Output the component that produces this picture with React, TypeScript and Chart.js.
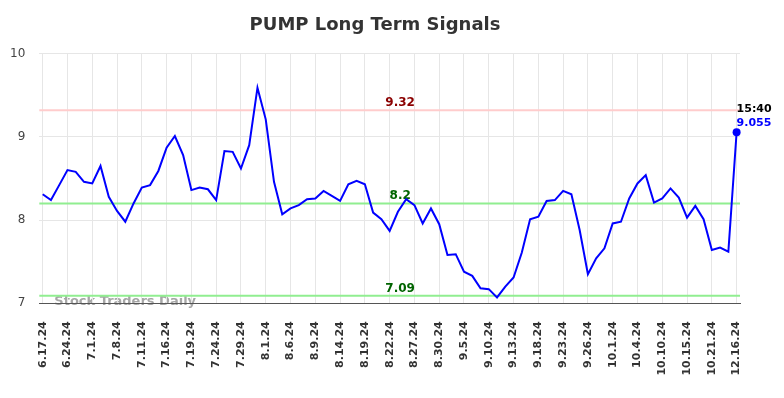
import React, { useEffect, useRef } from "react";
import { Chart, registerables } from "chart.js";

Chart.register(...registerables);

const FONT = '"DejaVu Sans", Verdana, sans-serif';

const titleText = "PUMP Long Term Signals";
const watermark = "Stock Traders Daily";
const lastTime = "15:40";

// one tick label every 3 data points
const TICK_STEP = 3;
const tickLabels = [
  "6.17.24", "6.24.24", "7.1.24", "7.8.24", "7.11.24", "7.16.24", "7.19.24",
  "7.24.24", "7.29.24", "8.1.24", "8.6.24", "8.9.24", "8.14.24", "8.19.24",
  "8.22.24", "8.27.24", "8.30.24", "9.5.24", "9.10.24", "9.13.24", "9.18.24",
  "9.23.24", "9.26.24", "10.1.24", "10.4.24", "10.10.24", "10.15.24",
  "10.21.24", "12.16.24",
];

const values = [
  8.31, 8.24, 8.42, 8.6, 8.58, 8.46, 8.44, 8.65, 8.28, 8.11,
  7.98, 8.2, 8.39, 8.42, 8.59, 8.87, 9.01, 8.78, 8.36, 8.39,
  8.37, 8.24, 8.83, 8.82, 8.62, 8.9, 9.59, 9.21, 8.46, 8.07,
  8.14, 8.18, 8.25, 8.26, 8.35, 8.29, 8.23, 8.43, 8.47, 8.43,
  8.09, 8.01, 7.87, 8.1, 8.25, 8.18, 7.96, 8.14, 7.95, 7.58,
  7.59, 7.38, 7.33, 7.18, 7.17, 7.07, 7.2, 7.31, 7.61, 8.01,
  8.04, 8.23, 8.24, 8.35, 8.31, 7.88, 7.35, 7.54, 7.66, 7.96,
  7.98, 8.26, 8.44, 8.54, 8.21, 8.26, 8.38, 8.27, 8.03, 8.17,
  8.01, 7.64, 7.67, 7.62, 9.055,
];

const signalLevels = [9.32, 8.2, 7.09];
const signalLineColors = ["#ffcccc", "#90ee90", "#90ee90"];
const signalTextColors = ["#8b0000", "#006400", "#006400"];

const yTicks = [7, 8, 9, 10];

const overlayPlugin = {
  id: "overlay",
  beforeDraw(chart: any) {
    const { ctx, chartArea } = chart;
    ctx.save();
    ctx.font = `bold 13px ${FONT}`;
    ctx.fillStyle = "#a6a6a6";
    ctx.textBaseline = "middle";
    ctx.textAlign = "left";
    ctx.fillText(watermark, chartArea.left + 15, chartArea.bottom - 1.5);
    ctx.restore();
  },
  beforeDatasetsDraw(chart: any) {
    const { ctx, chartArea, scales } = chart;
    const y = scales.y;
    ctx.save();
    signalLevels.forEach((lvl, i) => {
      const py = y.getPixelForValue(lvl);
      ctx.strokeStyle = signalLineColors[i];
      ctx.lineWidth = 2;
      ctx.beginPath();
      ctx.moveTo(chartArea.left, py);
      ctx.lineTo(chartArea.right, py);
      ctx.stroke();
      ctx.font = `bold 12px ${FONT}`;
      ctx.fillStyle = signalTextColors[i];
      ctx.textAlign = "center";
      ctx.textBaseline = "alphabetic";
      ctx.fillText(String(lvl), chartArea.left + chartArea.width * 0.515, py - 4);
    });
    ctx.restore();
  },
  afterDatasetsDraw(chart: any) {
    const { ctx } = chart;
    const meta = chart.getDatasetMeta(0);
    const pt = meta.data[meta.data.length - 1];
    if (!pt) return;
    ctx.save();
    ctx.font = `bold 11px ${FONT}`;
    ctx.textAlign = "left";
    ctx.textBaseline = "alphabetic";
    ctx.fillStyle = "#000000";
    ctx.fillText(lastTime, pt.x, pt.y - 20);
    ctx.fillStyle = "#0000ff";
    ctx.fillText(String(values[values.length - 1]), pt.x, pt.y - 6.5);
    ctx.restore();
  },
};

export default function App() {
  const ref = useRef<HTMLCanvasElement>(null);

  useEffect(() => {
    if (!ref.current) return;
    const chart = new Chart(ref.current, {
      type: "line",
      data: {
        datasets: [
          {
            data: values.map((v, i) => ({ x: i, y: v })),
            borderColor: "#0000ff",
            backgroundColor: "#0000ff",
            borderWidth: 2,
            tension: 0,
            pointRadius: (c: any) => (c.dataIndex === values.length - 1 ? 4 : 0),
            pointBackgroundColor: "#0000ff",
            pointBorderWidth: 0,
            clip: false,
          } as any,
        ],
      },
      options: {
        responsive: false,
        animation: false,
        layout: { padding: { left: 10, right: 44, top: 0, bottom: 0 } },
        plugins: {
          legend: { display: false },
          tooltip: { enabled: false },
          title: {
            display: true,
            text: titleText,
            color: "#333333",
            font: { family: FONT, size: 18, weight: "bold" },
            padding: { top: 15, bottom: 17 },
          },
        },
        scales: {
          x: {
            type: "linear",
            min: -0.41,
            max: values.length - 1 + 0.41,
            afterBuildTicks: (scale: any) => {
              scale.ticks = tickLabels.map((_, i) => ({ value: i * TICK_STEP }));
            },
            afterFit: (scale: any) => {
              scale.height = 94.7;
              scale.paddingLeft = 0;
              scale.paddingRight = 0;
            },
            ticks: {
              autoSkip: false,
              maxRotation: 90,
              minRotation: 90,
              padding: 18,
              color: "#333333",
              font: { family: FONT, size: 11, weight: "bold" },
              callback: (_v: any, index: number) => tickLabels[index] ?? "",
            },
            grid: { color: "#e6e6e6", drawTicks: false },
            border: { display: true, color: "#555555", width: 1 },
          },
          y: {
            type: "linear",
            min: yTicks[0],
            max: yTicks[yTicks.length - 1],
            afterBuildTicks: (scale: any) => {
              scale.ticks = yTicks.map((v) => ({ value: v }));
            },
            afterFit: (scale: any) => {
              scale.width = 29.3;
            },
            ticks: {
              padding: 14,
              color: "#444444",
              font: { family: FONT, size: 12 },
            },
            grid: { color: "#e6e6e6", drawTicks: false },
            border: { display: false },
          },
        },
      } as any,
      plugins: [overlayPlugin],
    });
    return () => chart.destroy();
  }, []);

  return (
    <div style={{ position: "absolute", left: 0, top: 0, width: 784, height: 398 }}>
      <canvas ref={ref} width={784} height={398} style={{ display: "block" }} />
    </div>
  );
}
